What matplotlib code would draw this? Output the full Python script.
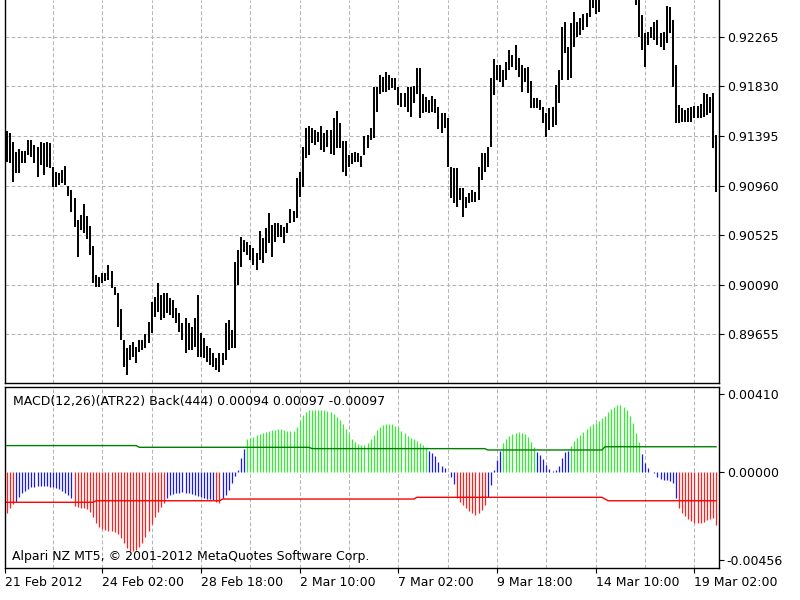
import matplotlib
matplotlib.use("Agg")
import matplotlib.pyplot as plt
import numpy as np

plt.rcParams['font.family'] = ['DejaVu Sans']

# ---------------- data ----------------
highs = [
0.91438, 0.91421, 0.91342, 0.91254, 0.91280, 0.91263, 0.91263, 0.91359, 0.91359, 0.91315,
0.91298, 0.91342, 0.91333, 0.91342, 0.91333, 0.91122, 0.91079, 0.91070, 0.91096, 0.91131,
0.90956, 0.90921, 0.90850, 0.90658, 0.90701, 0.90798, 0.90693, 0.90605, 0.90430, 0.90175,
0.90158, 0.90193, 0.90193, 0.90263, 0.90210, 0.90070, 0.90017, 0.89877, 0.89605, 0.89535,
0.89561, 0.89588, 0.89544, 0.89605, 0.89605, 0.89658, 0.89763, 0.89939, 0.89982, 0.90105,
0.90000, 0.90017, 0.90017, 0.89974, 0.89956, 0.89886, 0.89842, 0.89754, 0.89798, 0.89754,
0.89719, 0.89798, 0.90000, 0.89667, 0.89623, 0.89553, 0.89535, 0.89491, 0.89447, 0.89491,
0.89491, 0.89754, 0.89781, 0.89693, 0.90289, 0.90395, 0.90509, 0.90482, 0.90465, 0.90438,
0.90412, 0.90368, 0.90561, 0.90500, 0.90587, 0.90719, 0.90614, 0.90631, 0.90631, 0.90614,
0.90596, 0.90631, 0.90754, 0.90737, 0.91026, 0.91079, 0.91298, 0.91464, 0.91482, 0.91464,
0.91447, 0.91429, 0.91482, 0.91421, 0.91447, 0.91447, 0.91552, 0.91614, 0.91508, 0.91350,
0.91350, 0.91228, 0.91245, 0.91254, 0.91245, 0.91219, 0.91394, 0.91403, 0.91464, 0.91824,
0.91824, 0.91929, 0.91912, 0.91956, 0.91929, 0.91903, 0.91903, 0.91824, 0.91771, 0.91771,
0.91824, 0.91824, 0.91833, 0.91991, 0.91991, 0.91763, 0.91736, 0.91710, 0.91745, 0.91719,
0.91649, 0.91596, 0.91596, 0.91552, 0.91122, 0.91114, 0.91114, 0.90938, 0.90938, 0.90859,
0.90894, 0.90921, 0.90903, 0.91122, 0.91245, 0.91245, 0.91298, 0.91903, 0.92070, 0.92017,
0.92017, 0.91973, 0.92043, 0.92149, 0.92105, 0.92192, 0.92078, 0.92017, 0.91991, 0.91999,
0.91877, 0.91728, 0.91728, 0.91710, 0.91649, 0.91596, 0.91640, 0.91649, 0.91842, 0.91973,
0.92350, 0.92394, 0.92175, 0.92385, 0.92482, 0.92394, 0.92429, 0.92464, 0.92473, 0.92631,
0.92675, 0.92692, 0.92719, 0.92780, 0.92820, 0.92860, 0.92840, 0.92900, 0.92880, 0.92850,
0.92830, 0.92800, 0.92780, 0.92760, 0.92675, 0.92657, 0.92455, 0.92298, 0.92306, 0.92350,
0.92394, 0.92412, 0.92298, 0.92306, 0.92534, 0.92526, 0.92412, 0.92017, 0.91666, 0.91640,
0.91622, 0.91640, 0.91649, 0.91657, 0.91657, 0.91675, 0.91771, 0.91763, 0.91736, 0.91771,
0.91403]

lows = [
0.91166, 0.91158, 0.90991, 0.91070, 0.91070, 0.91158, 0.91158, 0.91228, 0.91210, 0.91158,
0.91035, 0.91140, 0.91052, 0.91122, 0.91114, 0.90947, 0.90947, 0.90965, 0.90982, 0.90965,
0.90868, 0.90728, 0.90596, 0.90333, 0.90570, 0.90544, 0.90491, 0.90351, 0.90105, 0.90070,
0.90070, 0.90105, 0.90123, 0.90131, 0.90061, 0.90000, 0.89719, 0.89605, 0.89368, 0.89298,
0.89430, 0.89456, 0.89404, 0.89500, 0.89518, 0.89535, 0.89579, 0.89667, 0.89807, 0.89851,
0.89781, 0.89798, 0.89842, 0.89824, 0.89798, 0.89754, 0.89675, 0.89605, 0.89491, 0.89518,
0.89518, 0.89544, 0.89456, 0.89456, 0.89447, 0.89412, 0.89386, 0.89368, 0.89342, 0.89325,
0.89386, 0.89430, 0.89518, 0.89535, 0.89535, 0.90088, 0.90245, 0.90377, 0.90351, 0.90307,
0.90263, 0.90219, 0.90307, 0.90281, 0.90368, 0.90456, 0.90333, 0.90465, 0.90509, 0.90509,
0.90456, 0.90544, 0.90631, 0.90640, 0.90675, 0.90859, 0.90947, 0.91201, 0.91228, 0.91333,
0.91315, 0.91342, 0.91272, 0.91254, 0.91298, 0.91236, 0.91228, 0.91289, 0.91289, 0.91079,
0.91044, 0.91122, 0.91149, 0.91166, 0.91166, 0.91122, 0.91228, 0.91289, 0.91359, 0.91377,
0.91605, 0.91763, 0.91780, 0.91780, 0.91798, 0.91815, 0.91798, 0.91666, 0.91649, 0.91649,
0.91605, 0.91561, 0.91684, 0.91763, 0.91552, 0.91596, 0.91605, 0.91596, 0.91605, 0.91596,
0.91456, 0.91421, 0.91464, 0.91122, 0.90850, 0.90807, 0.90772, 0.90833, 0.90684, 0.90763,
0.90807, 0.90816, 0.90816, 0.90833, 0.91008, 0.91079, 0.91122, 0.91298, 0.91754, 0.91885,
0.91868, 0.91824, 0.91885, 0.91973, 0.91999, 0.91973, 0.91912, 0.91780, 0.91868, 0.91771,
0.91640, 0.91640, 0.91640, 0.91622, 0.91508, 0.91386, 0.91447, 0.91473, 0.91491, 0.91684,
0.91885, 0.92122, 0.91885, 0.91903, 0.92175, 0.92262, 0.92280, 0.92324, 0.92350, 0.92438,
0.92517, 0.92464, 0.92482, 0.92640, 0.92690, 0.92720, 0.92700, 0.92760, 0.92730, 0.92700,
0.92680, 0.92660, 0.92640, 0.92620, 0.92543, 0.92262, 0.92149, 0.91999, 0.92192, 0.92254,
0.92236, 0.92192, 0.92175, 0.92149, 0.92210, 0.92298, 0.91824, 0.91508, 0.91508, 0.91517,
0.91517, 0.91517, 0.91517, 0.91552, 0.91552, 0.91552, 0.91561, 0.91578, 0.91596, 0.91289,
0.90903]

hist = [
-0.00210, -0.00188, -0.00165, -0.00153, -0.00127, -0.00109, -0.00095, -0.00085, -0.00078, -0.00074,
-0.00071, -0.00071, -0.00071, -0.00071, -0.00074, -0.00078, -0.00083, -0.00088, -0.00095, -0.00106,
-0.00118, -0.00135, -0.00175, -0.00182, -0.00186, -0.00188, -0.00189, -0.00205, -0.00231, -0.00263,
-0.00287, -0.00298, -0.00301, -0.00305, -0.00306, -0.00312, -0.00322, -0.00345, -0.00371, -0.00394,
-0.00409, -0.00411, -0.00406, -0.00392, -0.00371, -0.00340, -0.00305, -0.00270, -0.00235, -0.00205,
-0.00179, -0.00162, -0.00135, -0.00120, -0.00111, -0.00107, -0.00106, -0.00104, -0.00106, -0.00109,
-0.00113, -0.00118, -0.00123, -0.00127, -0.00132, -0.00137, -0.00141, -0.00144, -0.00156, -0.00158,
-0.00135, -0.00118, -0.00092, -0.00057, -0.00018, 0.00013, 0.00074, 0.00123, 0.00174, 0.00182,
0.00188, 0.00195, 0.00202, 0.00209, 0.00214, 0.00217, 0.00221, 0.00224, 0.00226, 0.00226,
0.00223, 0.00219, 0.00216, 0.00219, 0.00240, 0.00272, 0.00299, 0.00317, 0.00326, 0.00327,
0.00327, 0.00327, 0.00327, 0.00326, 0.00322, 0.00317, 0.00308, 0.00292, 0.00275, 0.00252,
0.00226, 0.00200, 0.00175, 0.00158, 0.00148, 0.00142, 0.00146, 0.00156, 0.00174, 0.00196,
0.00221, 0.00238, 0.00247, 0.00252, 0.00254, 0.00252, 0.00245, 0.00237, 0.00217, 0.00205,
0.00193, 0.00182, 0.00174, 0.00165, 0.00156, 0.00146, 0.00135, 0.00114, 0.00100, 0.00086,
0.00057, 0.00036, 0.00022, 0.00004, -0.00025, -0.00060, -0.00135, -0.00153, -0.00170, -0.00188,
-0.00202, -0.00214, -0.00223, -0.00214, -0.00196, -0.00170, -0.00127, -0.00065, 0.00013, 0.00065,
0.00113, 0.00153, 0.00177, 0.00193, 0.00203, 0.00209, 0.00210, 0.00209, 0.00200, 0.00184,
0.00162, 0.00135, 0.00109, 0.00090, 0.00069, 0.00039, 0.00018, 0.00010, 0.00013, 0.00034,
0.00074, 0.00107, 0.00114, 0.00139, 0.00163, 0.00182, 0.00198, 0.00214, 0.00230, 0.00244,
0.00254, 0.00261, 0.00272, 0.00284, 0.00296, 0.00317, 0.00334, 0.00345, 0.00352, 0.00354,
0.00345, 0.00327, 0.00296, 0.00258, 0.00209, 0.00162, 0.00097, 0.00048, 0.00022, 0.00003,
-0.00004, -0.00022, -0.00032, -0.00039, -0.00039, -0.00045, -0.00057, -0.00135, -0.00188, -0.00210,
-0.00228, -0.00242, -0.00252, -0.00263, -0.00266, -0.00263, -0.00258, -0.00249, -0.00242, -0.00240,
-0.00275]

upper_vals = [0.00141, 0.00132, 0.00125, 0.00118, 0.00135]
upper_lens = [43, 56, 57, 38, 37]
lower_vals = [-0.00156, -0.00148, -0.00139, -0.00130, -0.00139, -0.00148]
lower_lens = [29, 41, 63, 61, 1, 36]

price_ticks = [0.89655, 0.90090, 0.90525, 0.90960, 0.91395, 0.91830, 0.92265]
macd_ticks = [0.00410, 0.00000, -0.00456]
date_labels = ['21 Feb 2012', '24 Feb 02:00', '28 Feb 18:00', '2 Mar 10:00',
               '7 Mar 02:00', '9 Mar 18:00', '14 Mar 10:00', '19 Mar 02:00']
date_pos = [-0.5, 31, 63, 95, 127, 159, 191, 223]
grid_pos = list(range(15, 231, 16))

title_text = "MACD(12,26)(ATR22) Back(444) 0.00094 0.00097 -0.00097"
copyright_text = "Alpari NZ MT5, \u00a9 2001-2012 MetaQuotes Software Corp."

# ---------------- figure ----------------
n = len(highs)
x = np.arange(n)
upper = np.repeat(upper_vals, upper_lens)
lower = np.repeat(lower_vals, lower_lens)
h = np.array(hist)

fig = plt.figure(figsize=(8, 6), dpi=100)
W, H = 800.0, 600.0
ax1 = fig.add_axes([5 / W, 1 - 383 / H, 714 / W, 383 / H])
ax2 = fig.add_axes([5 / W, 1 - 568 / H, 714 / W, 181 / H])

xlim = (-0.55, 230.96)
grid_kw = dict(color='#b4b4b4', lw=0.75, dashes=(3.6, 2.2), zorder=0)
fs = 9

# main price panel
for gp in grid_pos:
    ax1.axvline(gp, **grid_kw)
for pt in price_ticks:
    ax1.axhline(pt, **grid_kw)
ax1.vlines(x, lows, highs, color='black', lw=1.4, zorder=2)
ax1.set_xlim(*xlim)
ax1.set_ylim(0.89228, 0.92587)
ax1.yaxis.tick_right()
ax1.set_yticks(price_ticks)
ax1.set_yticklabels([f"{v:.5f}" for v in price_ticks])
ax1.tick_params(axis='y', length=3.6, width=0.8, pad=2, labelsize=fs, colors='black')
ax1.set_xticks([])
ax1.spines['top'].set_visible(False)
for s in ['left', 'right', 'bottom']:
    ax1.spines[s].set_linewidth(1.0)

# MACD panel
for gp in grid_pos:
    ax2.axvline(gp, **grid_kw)
colors = np.where(h > upper, '#33ee33', np.where(h < lower, '#ff2020', '#1a1aee'))
ax2.vlines(x, 0, h, colors=colors, lw=0.9, zorder=2)
ax2.plot(x, upper, color='#008000', lw=1.0, zorder=3)
ax2.plot(x, lower, color='#ff0000', lw=1.0, zorder=3)
ax2.set_xlim(*xlim)
ax2.set_ylim(-0.005003, 0.004479)
ax2.yaxis.tick_right()
ax2.set_yticks(macd_ticks)
ax2.set_yticklabels([f"{v:.5f}" for v in macd_ticks])
ax2.tick_params(axis='y', length=3.6, width=0.8, pad=2, labelsize=fs)
ax2.set_xticks(date_pos)
ax2.set_xticklabels(date_labels, ha='left')
ax2.tick_params(axis='x', length=3.6, width=0.8, pad=2, labelsize=fs)
for s in ax2.spines.values():
    s.set_linewidth(1.0)

ax2.text(8 / 714, 1 - (401.5 - 387) / 181, title_text, transform=ax2.transAxes,
         fontsize=fs, va='center', ha='left', color='black')
ax2.text(7 / 714, 1 - (556.5 - 387) / 181, copyright_text, transform=ax2.transAxes,
         fontsize=fs, va='center', ha='left', color='black')

fig.savefig('out.png', dpi=100)
